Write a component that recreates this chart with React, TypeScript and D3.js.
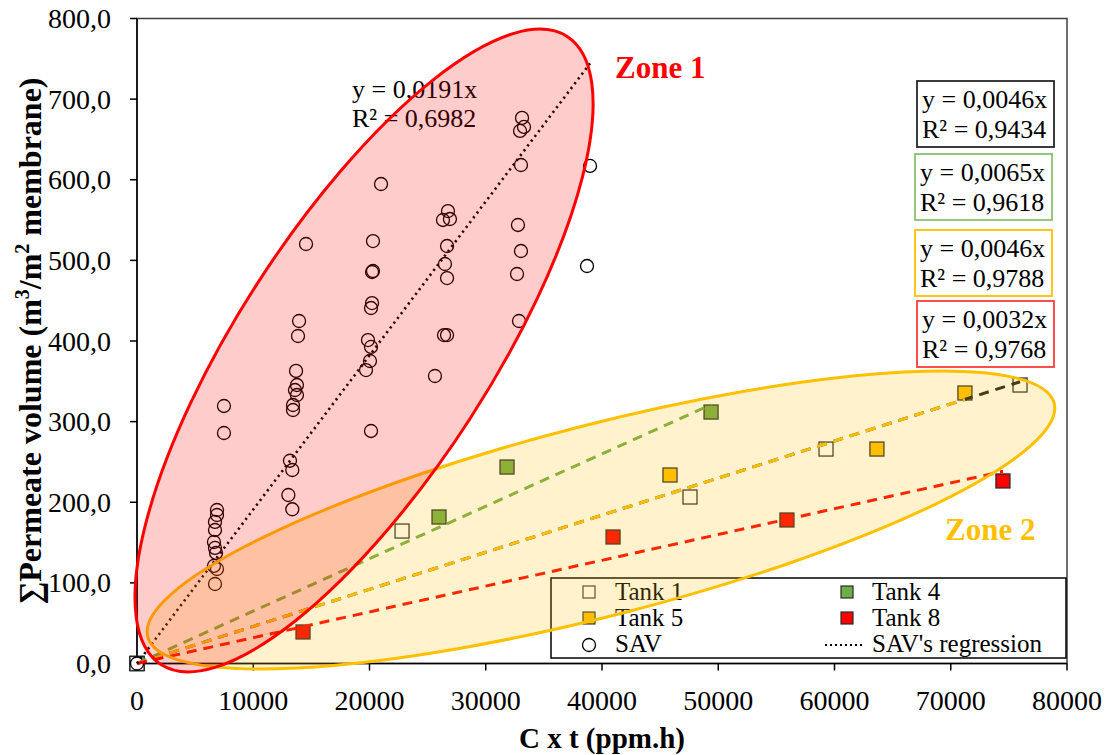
import React from 'react';
import * as d3 from 'd3';

const WIDTH = 1110;
const HEIGHT = 755;

// ---------- data ----------
const xTickValues = [0, 10000, 20000, 30000, 40000, 50000, 60000, 70000, 80000];
const yTickValues = [0, 100, 200, 300, 400, 500, 600, 700, 800];

const savX = [
  0,
  6880, 6880, 6710, 6710, 6620, 6710, 6800, 6620, 6880, 6710, 7480, 7480,
  13680, 13760, 13590, 13760, 13420, 13420, 13940, 13850, 14540, 13160, 13360, 13020, 13360,
  20990, 20300, 20300, 20220, 20220, 20130, 19870, 20130, 20040, 19700, 20130,
  26750, 26320, 26920, 26670, 26490, 26670, 26670, 26410, 25630,
  33120, 33290, 32950, 33030, 32770, 33030, 32690, 32860,
  38970, 38710,
];
const savY = [
  0,
  190.4, 184.2, 175.6, 165.6, 150.7, 143.3, 137.1, 121.0, 117.2, 98.6, 319.4, 285.9,
  362.9, 345.4, 339.2, 333.0, 320.6, 314.4, 424.8, 406.2, 520.3, 251.5, 240.0, 209.0, 191.3,
  594.7, 524.0, 486.8, 485.6, 447.1, 440.9, 401.2, 392.6, 375.2, 364.0, 288.4,
  561.2, 550.1, 551.3, 517.8, 495.5, 478.1, 407.4, 407.4, 356.6,
  676.7, 665.5, 660.5, 618.3, 543.9, 511.6, 483.1, 424.8,
  617.1, 493.0,
];

const tank1X = [0, 22800, 47570, 59270, 75960];
const tank1Y = [0, 164.3, 206.5, 266.0, 345.4];
const tank4X = [0, 25980, 31830, 49380];
const tank4Y = [0, 181.7, 243.7, 311.9];
const tank5X = [0, 45850, 63650, 71220];
const tank5Y = [0, 233.8, 266.0, 335.5];
const tank8X = [0, 14280, 40950, 55910, 74490];
const tank8Y = [0, 39.1, 156.9, 178.0, 226.4];

const slopes = { sav: 0.0191, tank1: 0.0046, tank4: 0.0065, tank5: 0.0046, tank8: 0.0032 };

const eqLabels = [
  { eq: 'y = 0,0046x', r2: 'R² = 0,9434', color: '#262626' },
  { eq: 'y = 0,0065x', r2: 'R² = 0,9618', color: '#8CC16A' },
  { eq: 'y = 0,0046x', r2: 'R² = 0,9788', color: '#FFC000' },
  { eq: 'y = 0,0032x', r2: 'R² = 0,9768', color: '#FF3B3B' },
];

const FONT = '"Liberation Serif", "Times New Roman", Times, serif';

const x = d3.scaleLinear().domain([0, 80000]).range([137, 1067]);
const y = d3.scaleLinear().domain([0, 800]).range([663.5, 18.5]);

const fmtY = (v: number) => d3.format('.1f')(v).replace('.', ',');

function Squares({ xs, ys, fill, stroke }: { xs: number[]; ys: number[]; fill: string; stroke: string }) {
  const s = 14;
  return (
    <g>
      {xs.map((xv, i) => (
        <rect key={i} x={x(xv) - s / 2} y={y(ys[i]) - s / 2} width={s} height={s} fill={fill} stroke={stroke} strokeWidth={1.3} />
      ))}
    </g>
  );
}

function TrendLine({ xs, slope, color, dash, width }: { xs: number[]; slope: number; color: string; dash: string; width: number }) {
  const xmax = d3.max(xs) as number;
  const line = d3.line<number>().x((d) => x(d)).y((d) => y(d * slope));
  return <path d={line([0, xmax]) || ''} fill="none" stroke={color} strokeWidth={width} strokeDasharray={dash} />;
}

export default function App() {
  // zone ellipses: centres in data units, radii/rotation in pixels
  const zone1 = { cx: 19530, cy: 388.2, rx: 374, ry: 126, rot: -57.1 };
  const zone2 = { cx: 39910, cy: 178.0, rx: 468, ry: 95.5, rot: -14.45 };

  const boxTops = [81, 154, 230, 301];
  const boxLefts = [917, 915, 915, 917];

  return (
    <svg width={WIDTH} height={HEIGHT} style={{ position: 'absolute', left: 0, top: 0 }} fontFamily={FONT}>
      <rect x={0} y={0} width={WIDTH} height={HEIGHT} fill="#fff" />

      {/* plot frame */}
      <rect x={x(0)} y={y(800)} width={x(80000) - x(0)} height={y(0) - y(800)} fill="none" stroke="#404040" strokeWidth={1.5} />
      {/* axes */}
      <line x1={x(0)} x2={x(0)} y1={y(0)} y2={y(800)} stroke="#000" strokeWidth={1.5} />
      <line x1={x(0)} x2={x(80000)} y1={y(0)} y2={y(0)} stroke="#000" strokeWidth={1.5} />
      {yTickValues.map((v) => (
        <g key={'yt' + v}>
          <line x1={x(0) - 7} x2={x(0)} y1={y(v)} y2={y(v)} stroke="#000" strokeWidth={1.5} />
          <text x={111} y={y(v) + 9.5} fontSize={28} textAnchor="end" fill="#000">{fmtY(v)}</text>
        </g>
      ))}
      {xTickValues.map((v) => (
        <g key={'xt' + v}>
          <line x1={x(v)} x2={x(v)} y1={y(0)} y2={y(0) + 7} stroke="#000" strokeWidth={1.5} />
          <text x={x(v)} y={710} fontSize={28} textAnchor="middle" fill="#000">{v}</text>
        </g>
      ))}

      {/* axis titles */}
      <text x={602} y={748} fontSize={29} fontWeight="bold" textAnchor="middle">C x t (ppm.h)</text>
      <text transform="translate(41,341) rotate(-90)" fontSize={32} fontWeight="bold" textAnchor="middle">
        ∑Permeate volume (m<tspan fontSize={20} dy={-12}>3</tspan><tspan dy={12}>/m</tspan><tspan fontSize={20} dy={-12}>2</tspan><tspan dy={12}> membrane)</tspan>
      </text>

      {/* legend */}
      <rect x={551} y={578} width={515} height={80} fill="#fff" stroke="#000" strokeWidth={1.5} />
      <g fontSize={25}>
        <rect x={583} y={586} width={12} height={12} fill="#fff" stroke="#3a3a3a" strokeWidth={1.2} />
        <text x={615} y={600}>Tank 1</text>
        <rect x={583} y={612} width={12} height={12} fill="#FFC000" stroke="#3a3a3a" strokeWidth={1.2} />
        <text x={615} y={626}>Tank 5</text>
        <circle cx={589} cy={645} r={6.5} fill="none" stroke="#000" strokeWidth={1.3} />
        <text x={615} y={652}>SAV</text>
        <rect x={841} y={586} width={12} height={12} fill="#70AD47" stroke="#2b2b2b" strokeWidth={1.2} />
        <text x={872} y={600}>Tank 4</text>
        <rect x={841} y={612} width={12} height={12} fill="#FF0000" stroke="#2b2b2b" strokeWidth={1.2} />
        <text x={872} y={626}>Tank 8</text>
        <line x1={825} x2={864} y1={645} y2={645} stroke="#000" strokeWidth={2} strokeDasharray="2,3" />
        <text x={872} y={652}>SAV's regression</text>
      </g>

      {/* equation boxes */}
      {eqLabels.map((e, i) => (
        <g key={'eq' + i}>
          <rect x={boxLefts[i]} y={boxTops[i]} width={137} height={66} fill="#fff" stroke={e.color} strokeWidth={1.8} />
          <text x={boxLefts[i] + 5} y={boxTops[i] + 27} fontSize={26}>{e.eq}</text>
          <text x={boxLefts[i] + 5} y={boxTops[i] + 57} fontSize={26}>{e.r2}</text>
        </g>
      ))}

      {/* markers */}
      <Squares xs={tank8X} ys={tank8Y} fill="#FF0000" stroke="#2b2b2b" />
      <Squares xs={tank5X} ys={tank5Y} fill="#FFC000" stroke="#2b2b2b" />
      <Squares xs={tank4X} ys={tank4Y} fill="#70AD47" stroke="#2b2b2b" />
      <Squares xs={tank1X} ys={tank1Y} fill="#fff" stroke="#2b2b2b" />
      <g>
        {savX.map((xv, i) => (
          <circle key={'s' + i} cx={x(xv)} cy={y(savY[i])} r={6.5} fill="none" stroke="#000" strokeWidth={1.3} />
        ))}
      </g>

      {/* trend lines */}
      <TrendLine xs={tank4X} slope={slopes.tank4} color="#70AD47" dash="10,7" width={3} />
      <TrendLine xs={tank1X} slope={slopes.tank1} color="#1a1a1a" dash="10,7" width={3} />
      <TrendLine xs={tank5X} slope={slopes.tank5} color="#FFC000" dash="10,7" width={3} />
      <TrendLine xs={tank8X} slope={slopes.tank8} color="#FF0000" dash="10,7" width={3} />
      <TrendLine xs={savX} slope={slopes.sav} color="#000" dash="2.2,3.8" width={2.6} />

      {/* SAV equation */}
      <text x={352} y={98} fontSize={26}>y = 0,0191x</text>
      <text x={352} y={127} fontSize={26}>R² = 0,6982</text>

      {/* zones (drawn on top, translucent) */}
      <ellipse
        cx={0} cy={0} rx={zone2.rx} ry={zone2.ry}
        transform={`translate(${x(zone2.cx)},${y(zone2.cy)}) rotate(${zone2.rot})`}
        fill="#FFC000" fillOpacity={0.2} stroke="#FFC000" strokeWidth={3}
      />
      <ellipse
        cx={0} cy={0} rx={zone1.rx} ry={zone1.ry}
        transform={`translate(${x(zone1.cx)},${y(zone1.cy)}) rotate(${zone1.rot})`}
        fill="#FF0000" fillOpacity={0.2} stroke="#FF0000" strokeWidth={3}
      />

      <text x={615} y={78} fontSize={31} fontWeight="bold" fill="#FF0000">Zone 1</text>
      <text x={945} y={540} fontSize={31} fontWeight="bold" fill="#FFC000">Zone 2</text>
    </svg>
  );
}
